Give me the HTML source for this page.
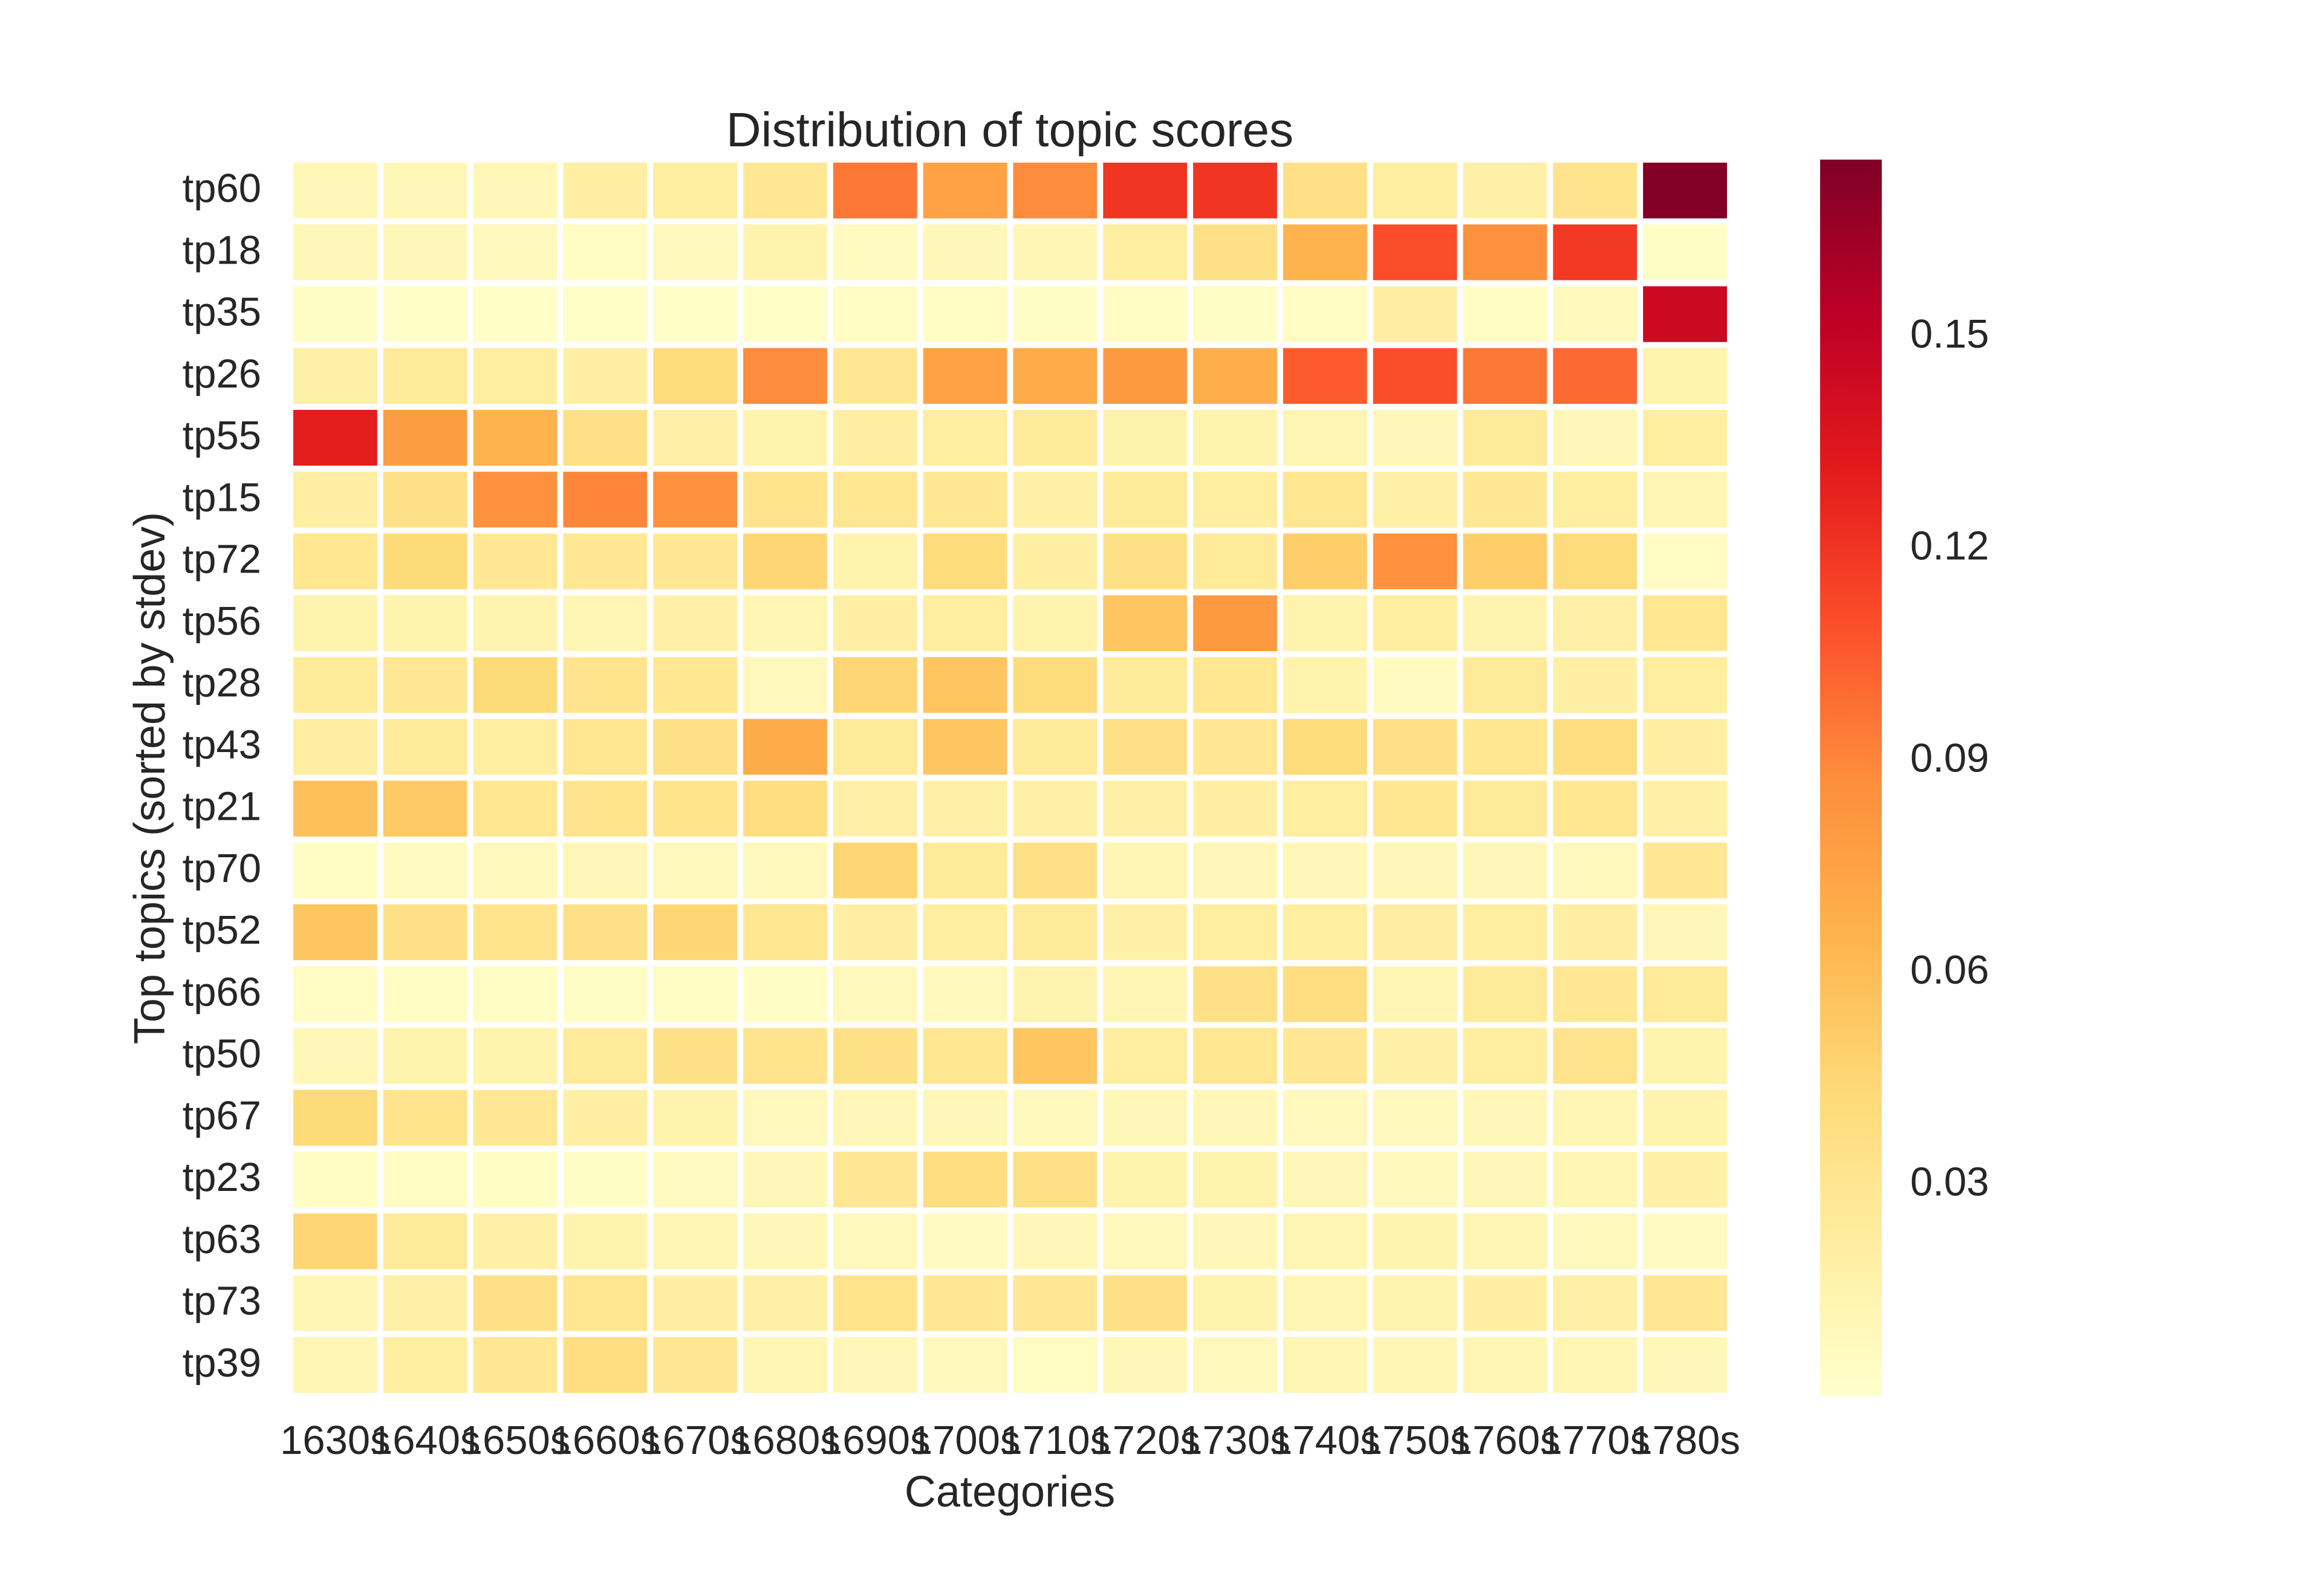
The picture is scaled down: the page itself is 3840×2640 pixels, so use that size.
<!DOCTYPE html>
<html><head><meta charset="utf-8">
<style>
html,body{margin:0;padding:0;background:#fff;}
svg{display:block;font-family:"Liberation Sans",Arial,sans-serif;}
</style></head>
<body>
<svg id="chart" width="3840" height="2640" viewBox="0 0 3840 2640" xmlns="http://www.w3.org/2000/svg">
  <defs>
    <linearGradient id="cbgrad" x1="0" y1="1" x2="0" y2="0"></linearGradient>
  </defs>
  <text x="1670" y="242" font-size="80" text-anchor="middle" fill="#262626">Distribution of topic scores</text>
  <g id="cells"></g>
  <g id="ylabels"></g>
  <g id="xlabels"></g>
  <text x="1670" y="2492" font-size="72" text-anchor="middle" fill="#262626">Categories</text>
  <text x="0" y="0" font-size="72" text-anchor="middle" fill="#262626" transform="translate(272,1287) rotate(-90)">Top topics (sorted by stdev)</text>
  <rect x="3010" y="264" width="102" height="2045" fill="url(#cbgrad)"></rect>
  <g id="cbticks"></g>
</svg>
<script>
const categories = ["1630s","1640s","1650s","1660s","1670s","1680s","1690s","1700s","1710s","1720s","1730s","1740s","1750s","1760s","1770s","1780s"];
const topics = ["tp60","tp18","tp35","tp26","tp55","tp15","tp72","tp56","tp28","tp43","tp21","tp70","tp52","tp66","tp50","tp67","tp23","tp63","tp73","tp39"];
const tp60 = [0.01,0.01,0.01,0.02,0.022,0.028,0.095,0.075,0.088,0.12,0.12,0.035,0.022,0.018,0.032,0.174];
const tp18 = [0.01,0.01,0.008,0.005,0.008,0.015,0.006,0.01,0.012,0.022,0.035,0.065,0.11,0.085,0.118,0.003];
const tp35 = [0.003,0.002,0.002,0.002,0.002,0.002,0.004,0.004,0.003,0.004,0.003,0.005,0.02,0.004,0.007,0.145];
const tp26 = [0.018,0.025,0.022,0.02,0.04,0.088,0.028,0.075,0.07,0.08,0.068,0.105,0.11,0.095,0.1,0.015];
const tp55 = [0.13,0.078,0.065,0.035,0.018,0.015,0.02,0.022,0.025,0.016,0.015,0.012,0.01,0.025,0.01,0.022];
const tp15 = [0.02,0.035,0.085,0.09,0.085,0.032,0.03,0.028,0.018,0.025,0.022,0.03,0.018,0.028,0.022,0.012];
const tp72 = [0.03,0.042,0.028,0.028,0.028,0.045,0.015,0.04,0.02,0.035,0.025,0.05,0.085,0.05,0.04,0.005];
const tp56 = [0.015,0.015,0.014,0.012,0.018,0.012,0.02,0.022,0.015,0.055,0.08,0.015,0.022,0.014,0.018,0.03];
const tp28 = [0.025,0.028,0.042,0.032,0.03,0.008,0.045,0.055,0.04,0.025,0.03,0.015,0.006,0.025,0.02,0.022];
const tp43 = [0.02,0.025,0.022,0.03,0.035,0.07,0.025,0.055,0.025,0.035,0.028,0.04,0.035,0.03,0.038,0.02];
const tp21 = [0.058,0.052,0.03,0.032,0.032,0.038,0.018,0.018,0.018,0.018,0.02,0.022,0.03,0.025,0.03,0.018];
const tp70 = [0.004,0.006,0.008,0.01,0.008,0.008,0.045,0.025,0.035,0.012,0.01,0.01,0.01,0.01,0.008,0.028];
const tp52 = [0.055,0.035,0.032,0.035,0.045,0.03,0.02,0.022,0.025,0.018,0.022,0.022,0.02,0.022,0.02,0.01];
const tp66 = [0.005,0.004,0.004,0.003,0.004,0.003,0.008,0.008,0.014,0.012,0.035,0.038,0.012,0.025,0.028,0.025];
const tp50 = [0.01,0.015,0.015,0.025,0.035,0.032,0.035,0.03,0.055,0.022,0.03,0.028,0.018,0.022,0.032,0.015];
const tp67 = [0.042,0.032,0.028,0.02,0.015,0.008,0.01,0.01,0.008,0.01,0.01,0.008,0.008,0.01,0.012,0.015];
const tp23 = [0.004,0.005,0.004,0.003,0.006,0.01,0.028,0.038,0.035,0.015,0.015,0.01,0.008,0.01,0.012,0.018];
const tp63 = [0.045,0.025,0.018,0.015,0.012,0.01,0.008,0.006,0.01,0.008,0.01,0.012,0.014,0.012,0.008,0.006];
const tp73 = [0.012,0.018,0.035,0.03,0.02,0.018,0.032,0.028,0.028,0.035,0.015,0.012,0.014,0.02,0.018,0.028];
const tp39 = [0.012,0.022,0.028,0.038,0.028,0.012,0.01,0.008,0.005,0.01,0.008,0.012,0.012,0.012,0.012,0.01];
const values = [tp60,tp18,tp35,tp26,tp55,tp15,tp72,tp56,tp28,tp43,tp21,tp70,tp52,tp66,tp50,tp67,tp23,tp63,tp73,tp39];
const cbTicks = [0.03,0.06,0.09,0.12,0.15];
const cbTickLabels = ["0.03","0.06","0.09","0.12","0.15"];
const vmin = 0.0, vmax = 0.175;

const NS = "http://www.w3.org/2000/svg";
const gx0 = 480, gx1 = 2861, gy0 = 264, gy1 = 2309;
const colW = (gx1 - gx0) / categories.length;
const rowH = (gy1 - gy0) / topics.length;
function xScale(i){ return gx0 + i * colW; }
function yScale(j){ return gy0 + j * rowH; }
function cbScale(v){ return gy1 - (v - vmin) / (vmax - vmin) * (gy1 - gy0); }

const stops = ["#ffffcc","#ffeda0","#fed976","#feb24c","#fd8d3c","#fc4e2a","#e31a1c","#bd0026","#800026"];
function hex(c){ return [parseInt(c.substr(1,2),16),parseInt(c.substr(3,2),16),parseInt(c.substr(5,2),16)]; }
function cmap(v){
  let t = (v - vmin) / (vmax - vmin); t = Math.max(0, Math.min(1, t));
  const p = t * (stops.length - 1); const i = Math.min(Math.floor(p), stops.length - 2); const f = p - i;
  const a = hex(stops[i]), b = hex(stops[i+1]);
  return "rgb(" + a.map((x,k)=>Math.round(x + (b[k]-x)*f)).join(",") + ")";
}

const grad = document.getElementById("cbgrad");
stops.forEach((c,i)=>{
  const s = document.createElementNS(NS,"stop");
  s.setAttribute("offset", (i/(stops.length-1)*100) + "%");
  s.setAttribute("stop-color", c);
  grad.appendChild(s);
});

const cells = document.getElementById("cells");
values.forEach((row, j)=>{
  row.forEach((v, i)=>{
    const r = document.createElementNS(NS,"rect");
    r.setAttribute("x", xScale(i) + 5);
    r.setAttribute("y", yScale(j) + 5);
    r.setAttribute("width", colW - 10);
    r.setAttribute("height", rowH - 10);
    r.setAttribute("fill", cmap(v));
    
    
    cells.appendChild(r);
  });
});

const yl = document.getElementById("ylabels");
topics.forEach((t, j)=>{
  const e = document.createElementNS(NS,"text");
  e.setAttribute("x", 432);
  e.setAttribute("y", yScale(j) + rowH/2 + 19);
  e.setAttribute("font-size", 67);
  e.setAttribute("text-anchor", "end");
  e.setAttribute("fill", "#262626");
  e.textContent = t;
  
  
  yl.appendChild(e);
});

const xl = document.getElementById("xlabels");
categories.forEach((c, i)=>{
  const e = document.createElementNS(NS,"text");
  e.setAttribute("x", xScale(i) + colW/2);
  e.setAttribute("y", 2405);
  e.setAttribute("font-size", 67);
  e.setAttribute("text-anchor", "middle");
  e.setAttribute("fill", "#262626");
  e.textContent = c;
  
  
  xl.appendChild(e);
});

const cb = document.getElementById("cbticks");
cbTicks.forEach((v, k)=>{
  const e = document.createElementNS(NS,"text");
  e.setAttribute("x", 3159);
  e.setAttribute("y", cbScale(v) + 19);
  e.setAttribute("font-size", 67);
  e.setAttribute("fill", "#262626");
  e.textContent = cbTickLabels[k];
  
  
  cb.appendChild(e);
});
</script>
</body></html>
